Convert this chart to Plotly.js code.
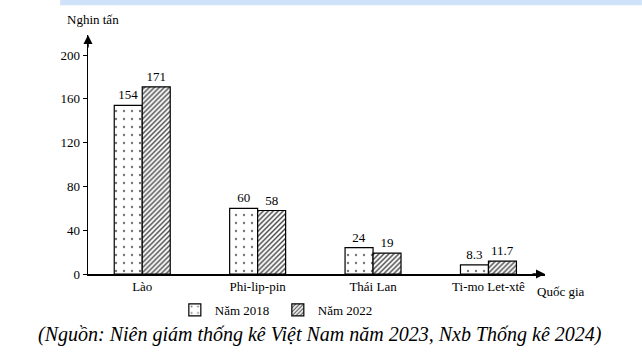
<!DOCTYPE html>
<html><head><meta charset="utf-8">
<script src="https://cdn.plot.ly/plotly-3.0.1.min.js"></script>
<style>html,body{margin:0;padding:0;background:#fff}#c{width:642px;height:357px}</style>
</head><body><div id="c"></div>
<script>
const categories = ["Lào", "Phi-lip-pin", "Thái Lan", "Ti-mo Let-xtê"];
const values2018 = [154, 60, 24, 8.3];
const values2022 = [171, 58, 19, 11.7];
const labels2018 = ["154", "60", "24", "8.3"];
const labels2022 = ["171", "58", "19", "11.7"];
const yTicks = [0, 40, 80, 120, 160, 200];

const SERIF = "Liberation Serif";
const font = {family: SERIF, color: "#000", size: 13};

const traces = [
  {type: "bar", name: "Năm 2018", x: categories, y: values2018, text: labels2018,
   textposition: "outside", cliponaxis: false, textfont: {family: SERIF, size: 13},
   marker: {color: "#fff", line: {color: "#000", width: 1.2},
            pattern: {shape: ".", fgcolor: "#777", bgcolor: "#fff", size: 8, solidity: 0.07}}},
  {type: "bar", name: "Năm 2022", x: categories, y: values2022, text: labels2022,
   textposition: "outside", cliponaxis: false, textfont: {family: SERIF, size: 13},
   marker: {color: "#fff", line: {color: "#000", width: 1.2},
            pattern: {shape: "/", fgcolor: "#444", bgcolor: "#fff", size: 3.5, solidity: 0.4}}}
];

const layout = {
  width: 642, height: 357,
  margin: {l: 88, r: 97, t: 35, b: 83},
  paper_bgcolor: "#fff", plot_bgcolor: "#fff",
  font: font,
  barmode: "group", bargap: 0.515, bargroupgap: 0,
  showlegend: true,
  legend: {orientation: "h", x: 0.19, y: -0.15, yanchor: "middle", xanchor: "left",
           font: {family: SERIF, size: 13}, itemwidth: 30,
           entrywidth: 58, entrywidthmode: "pixels"},
  xaxis: {range: [-0.47, 3.49], showline: true, linecolor: "#000", linewidth: 1.5,
          ticks: "", showgrid: false, zeroline: false, tickfont: {family: SERIF, size: 13}},
  yaxis: {range: [0, 218.3], tickvals: yTicks, ticktext: yTicks.map(String),
          showline: true, linecolor: "#000", linewidth: 1.5, ticks: "outside", ticklen: 4,
          tickcolor: "#000", showgrid: false, zeroline: false, tickfont: {family: SERIF, size: 13}},
  shapes: [
    {type: "rect", xref: "paper", yref: "paper", x0: -0.061, x1: 1.212, y0: 1.125, y1: 1.146,
     fillcolor: "#cfe2fa", line: {width: 0}, layer: "below"}
  ],
  annotations: [
    {xref: "paper", yref: "paper", x: 0, y: 1.0, ax: 0, ay: 14, axref: "pixel", ayref: "pixel",
     showarrow: true, arrowhead: 2, arrowsize: 1.2, arrowwidth: 1.5, arrowcolor: "#000", text: ""},
    {xref: "paper", yref: "paper", x: 1.0, y: 0, ax: -14, ay: 0, axref: "pixel", ayref: "pixel",
     showarrow: true, arrowhead: 2, arrowsize: 1.2, arrowwidth: 1.5, arrowcolor: "#000", text: ""},
    {xref: "paper", yref: "paper", x: 0.011, y: 1.063, xanchor: "center", yanchor: "middle",
     text: "Nghin tấn", showarrow: false, font: {family: SERIF, size: 13}},
    {xref: "paper", yref: "paper", x: 1.035, y: -0.075, xanchor: "center", yanchor: "middle",
     text: "Quốc gia", showarrow: false, font: {family: SERIF, size: 13}},
    {xref: "paper", yref: "paper", x: 0.508, y: -0.255, xanchor: "center", yanchor: "middle",
     text: "<i>(Nguồn: Niên giám thống kê Việt Nam năm 2023, Nxb Thống kê 2024)</i>",
     showarrow: false, font: {family: SERIF, size: 20}}
  ]
};

Plotly.newPlot("c", traces, layout, {displayModeBar: false, staticPlot: true});
</script></body></html>
